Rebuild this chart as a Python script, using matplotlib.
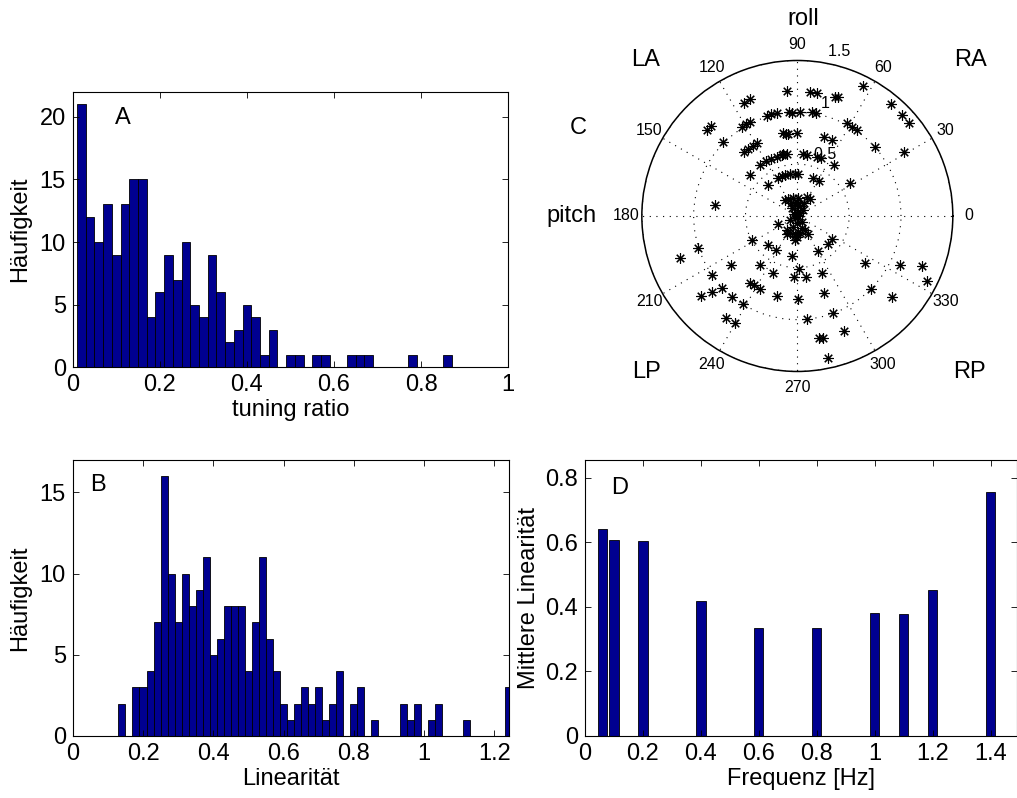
import numpy as np
import matplotlib
matplotlib.use('Agg')
import matplotlib.pyplot as plt
from matplotlib.ticker import FuncFormatter

plt.rcParams['font.family'] = ['Liberation Sans', 'DejaVu Sans']

# A: tuning ratio histogram (bin centers, counts)
a_centers = np.arange(1, 44) * 0.02
a_counts = [21, 12, 10, 13, 9, 13, 15, 15, 4, 6,
            9, 7, 10, 5, 4, 9, 6, 2, 3, 5,
            4, 1, 3, 0, 1, 1, 0, 1, 1, 0,
            0, 1, 1, 1, 0, 0, 0, 0, 1, 0,
            0, 0, 1]

# B: Linearitaet histogram, bins 0.14 .. 1.24
b_centers = np.arange(7, 63) * 0.02
b_counts = [2, 0, 3, 3, 4, 7, 16, 10, 7, 10,
            8, 9, 11, 5, 6, 8, 8, 8, 4, 7,
            11, 6, 4, 2, 1, 2, 3, 2, 3, 1,
            2, 4, 0, 2, 3, 0, 1, 0, 0, 0,
            2, 1, 2, 0, 1, 2, 0, 0, 0, 1,
            0, 0, 0, 0, 0, 3]

# C: preferred direction (deg) and tuning ratio
c_angle = [94.5, 84.2, 81.1, 72.5, 70.9, 63.1, 50.2, 44.1, 39.8, 115.2,
           112.1, 136.5, 133.8, 134.9, 122.1, 119.3, 116.7, 107.0, 104.7, 101.0,
           94.4, 92.9, 88.5, 82.1, 79.7, 61.7, 58.7, 55.4, 41.6, 31.0,
           100.0, 98.1, 96.3, 90.4, 71.2, 65.3, 129.6, 126.6, 122.4, 119.2,
           103.9, 99.2, 84.4, 81.3, 71.4, 67.7, 54.0, 126.2, 119.6, 115.0,
           109.2, 139.1, 116.3, 110.6, 99.8, 88.6, 67.4, 58.3, 31.8, 133.1,
           172.4, 93.3, 106.7, 102.8,
           199.7, 197.6, 214.4, 219.7, 221.6, 223.6, 230.9, 238.6, 216.3, 234.9,
           239.9, 208.4, 225.3, 238.1, 232.5, 247.0, 234.6, 237.9, 242.9, 255.9,
           262.9, 271.8, 266.9, 277.8, 270.2, 275.2, 299.9, 318.2, 325.8, 293.2,
           289.3, 290.3, 292.2, 280.1, 282.0, 282.1, 325.4, 315.2, 319.4, 334.3,
           338.2, 333.2, 202.0, 238.8, 300.5, 263.2,
           127.7, 118.4, 102.9, 86.6, 53.3, 63.4, 126.6, 76.6, 102.2, 74.8,
           225.0, 307.0, 249.0, 273.8, 247.0, 268.0, 45.0, 146.0, 265.0, 289.5,
           208.8, 45.0, 90.0, 117.7, 63.6, 0.0, 278.8, 298.7, 232.7, 264.3]
c_ratio = [1.213, 1.205, 1.204, 1.207, 1.211, 1.406, 1.406, 1.401, 1.406, 1.208,
           1.214, 1.206, 1.207, 1.012, 1.010, 1.018, 1.018, 1.012, 1.014, 1.009,
           1.009, 0.998, 1.006, 1.010, 1.006, 1.016, 1.009, 1.008, 1.007, 1.204,
           0.810, 0.802, 0.796, 0.801, 0.808, 0.807, 0.806, 0.804, 0.804, 0.803,
           0.606, 0.606, 0.598, 0.595, 0.604, 0.601, 0.608, 0.610, 0.611, 0.607,
           0.606, 0.604, 0.413, 0.412, 0.414, 0.405, 0.401, 0.397, 0.598, 0.410,
           0.801, 0.403, 0.413, 0.610,
           1.202, 1.009, 1.002, 1.208, 1.105, 1.008, 1.003, 0.999, 0.794, 1.202,
           1.197, 0.494, 0.398, 0.390, 0.592, 0.594, 0.789, 0.782, 0.791, 0.792,
           0.392, 0.512, 0.589, 0.594, 0.797, 0.994, 0.393, 0.401, 0.400, 0.595,
           0.787, 0.998, 1.198, 1.195, 1.203, 1.398, 0.793, 1.003, 1.199, 1.099,
           1.299, 1.398, 0.197, 0.199, 0.197, 0.194,
           0.195, 0.183, 0.175, 0.170, 0.204, 0.201, 0.092, 0.043, 0.108, 0.100,
           0.032, 0.069, 0.110, 0.151, 0.182, 0.199, 0.036, 0.040, 0.071, 0.126,
           0.081, 0.082, 0.138, 0.138, 0.144, 0.010, 0.169, 0.154, 0.170, 0.233]

# D: mean linearity per stimulus frequency
d_freq = [0.06, 0.1, 0.2, 0.4, 0.6, 0.8, 1.0, 1.1, 1.2, 1.4]
d_lin = [0.640, 0.607, 0.605, 0.419, 0.333, 0.336, 0.381, 0.378, 0.453, 0.755]

BAR = '#000090'
FS = 17

fmt = FuncFormatter(lambda v, p: '%g' % round(v, 6))


def style(ax):
    ax.tick_params(direction='in', top=True, right=True, length=4,
                   width=0.6, labelsize=FS, pad=5)
    for s in ax.spines.values():
        s.set_linewidth(0.8)
    ax.xaxis.set_major_formatter(fmt)
    ax.yaxis.set_major_formatter(fmt)


fig = plt.figure(figsize=(10.17, 7.98), dpi=100)

# A
axa = fig.add_axes([0.0715, 0.5397, 0.4282, 0.3454])
axa.bar(a_centers, a_counts, width=0.02, color=BAR, edgecolor='k', linewidth=0.6)
axa.set_xlim(0, 1)
axa.set_ylim(0, 22)
axa.set_xticks([0, 0.2, 0.4, 0.6, 0.8, 1])
axa.set_yticks([0, 5, 10, 15, 20])
axa.set_xlabel('tuning ratio', fontsize=FS, labelpad=2)
axa.set_ylabel('Häufigkeit', fontsize=FS, labelpad=6)
axa.text(0.115, 0.905, 'A', transform=axa.transAxes, fontsize=FS,
         ha='center', va='center')
style(axa)

# B
axb = fig.add_axes([0.0715, 0.0777, 0.4285, 0.3459])
axb.bar(b_centers, b_counts, width=0.02, color=BAR, edgecolor='k', linewidth=0.6)
axb.set_xlim(0, 1.24)
axb.set_ylim(0, 17)
axb.set_xticks([0, 0.2, 0.4, 0.6, 0.8, 1, 1.2])
axb.set_yticks([0, 5, 10, 15])
axb.set_xlabel('Linearität', fontsize=FS, labelpad=2)
axb.set_ylabel('Häufigkeit', fontsize=FS, labelpad=6)
axb.text(0.059, 0.909, 'B', transform=axb.transAxes, fontsize=FS,
         ha='center', va='center')
style(axb)

# D
axd = fig.add_axes([0.5752, 0.0777, 0.4245, 0.3459])
axd.bar(d_freq, d_lin, width=0.032, color=BAR, edgecolor='k', linewidth=0.6)
axd.set_xlim(0, 1.49)
axd.set_ylim(0, 0.855)
axd.set_xticks([0, 0.2, 0.4, 0.6, 0.8, 1, 1.2, 1.4])
axd.set_yticks([0, 0.2, 0.4, 0.6, 0.8])
axd.set_xlabel('Frequenz [Hz]', fontsize=FS, labelpad=2)
axd.set_ylabel('Mittlere Linearität', fontsize=FS, labelpad=4)
axd.text(0.081, 0.897, 'D', transform=axd.transAxes, fontsize=FS,
         ha='center', va='center')
style(axd)

# C: polar plot
axc = fig.add_axes([0.6311, 0.5345, 0.3058, 0.3897], projection='polar')
axc.set_ylim(0, 1.5)
axc.set_xticks(np.deg2rad(np.arange(0, 360, 30)))
axc.set_xticklabels([])
axc.set_yticks([0.5, 1.0, 1.5])
axc.set_yticklabels([])
axc.grid(True, color='k', linestyle=(0, (1, 5)), linewidth=0.8)
axc.spines['polar'].set_linewidth(1.1)
# asterisk marker like MATLAB '*'
axc.plot(np.deg2rad(c_angle), c_ratio, linestyle='none', marker=(8, 2, 0),
         color='k', ms=7.5, mew=0.8, clip_on=False)
for a in range(0, 360, 30):
    axc.text(np.deg2rad(a), 1.65, str(a), ha='center', va='center', fontsize=11.5)
for rr in [0.5, 1, 1.5]:
    axc.text(np.deg2rad(82), rr + 0.025, '  %g' % rr, ha='left', va='bottom',
             fontsize=11.5)

fig.text(803 / 1017, 1 - 19 / 798, 'roll', fontsize=FS, ha='center', va='center')
fig.text(572 / 1017, 1 - 216 / 798, 'pitch', fontsize=FS, ha='center', va='center')
fig.text(646 / 1017, 1 - 60 / 798, 'LA', fontsize=FS, ha='center', va='center')
fig.text(970 / 1017, 1 - 60 / 798, 'RA', fontsize=FS, ha='center', va='center')
fig.text(646 / 1017, 1 - 372 / 798, 'LP', fontsize=FS, ha='center', va='center')
fig.text(969 / 1017, 1 - 372 / 798, 'RP', fontsize=FS, ha='center', va='center')
fig.text(578 / 1017, 1 - 128 / 798, 'C', fontsize=FS, ha='center', va='center')

fig.savefig('out.png', dpi=100)
